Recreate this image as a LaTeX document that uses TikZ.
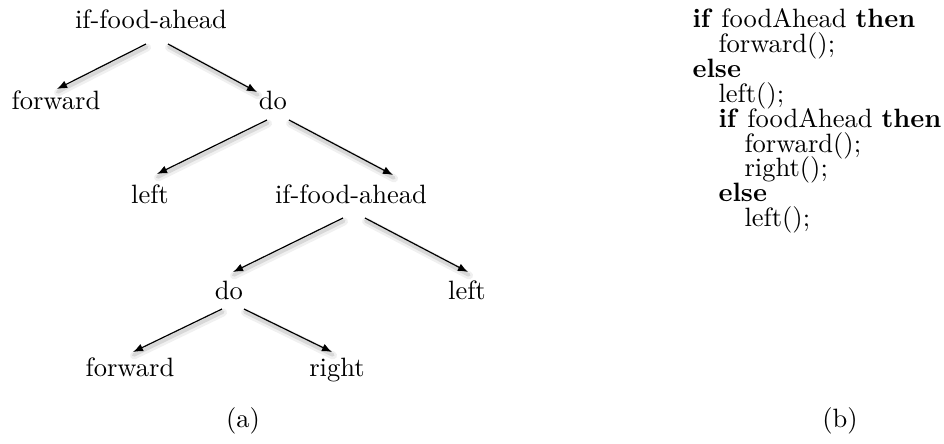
\documentclass[tikz,border=0pt]{standalone}
\usetikzlibrary{calc,arrows.meta}
\tikzset{
	lbl/.style={anchor=base, inner sep=0pt},
	cd/.style={anchor=base west, inner sep=0pt},
	edgeshade/.style={preaction={draw=black, opacity=0.06, line width=3pt, arrows=-, line cap=round, transform canvas={shift={(0.4pt,-1.3pt)}}},
		preaction={draw=black, opacity=0.10, line width=1.4pt, arrows=-, line cap=round, transform canvas={shift={(0.3pt,-1.1pt)}}}},
	edge/.style={-{Latex[length=3.8pt, width=3pt]}, line width=0.45pt, edgeshade}
}

\begin{document}
\begin{tikzpicture}[x=0.377pt, y=-0.377pt]
		%%%%% START %%%%%
		\useasboundingbox (0, 0) rectangle (944, 443);
		
		% tree (a)
		\node[lbl] (root) at (151, 28) {if-food-ahead};
		\node[lbl] (fwdA) at (56, 109) {forward};
		\node[lbl] (doA) at (273, 109) {do};
		\node[lbl] (leftA) at (150, 203) {left};
		\node[lbl] (ifB) at (351, 203) {if-food-ahead};
		\node[lbl] (doB) at (229, 299) {do};
		\node[lbl] (leftB) at (467, 299) {left};
		\node[lbl] (fwdB) at (130, 376) {forward};
		\node[lbl] (rightB) at (337, 376) {right};
		
		\draw[edge] ($(root.base)+(-5, 16)$) -- ($(fwdA.base)+(1, -20)$);
		\draw[edge] ($(root.base)+(17, 16)$) -- ($(doA.base)+(-16, -17)$);
		\draw[edge] ($(doA.base)+(-6, 11)$) -- ($(leftA.base)+(7, -29)$);
		\draw[edge] ($(doA.base)+(16, 11)$) -- ($(ifB.base)+(42, -28)$);
		\draw[edge] ($(ifB.base)+(-8, 15)$) -- ($(doB.base)+(4, -27)$);
		\draw[edge] ($(ifB.base)+(14, 15)$) -- ($(leftB.base)+(1, -27)$);
		\draw[edge] ($(doB.base)+(-7, 10)$) -- ($(fwdB.base)+(3, -24)$);
		\draw[edge] ($(doB.base)+(15, 10)$) -- ($(rightB.base)+(-5, -24)$);
		
		\node[lbl] (capA) at (243, 427) {(a)};
		
		% program (b)
		\node[cd] (c1) at (692, 27) {\textbf{if} foodAhead \textbf{then}};
		\node[cd] (c2) at (718, 52) {forward();};
		\node[cd] (c3) at (692, 77) {\textbf{else}};
		\node[cd] (c4) at (718, 102) {left();};
		\node[cd] (c5) at (718, 127) {\textbf{if} foodAhead \textbf{then}};
		\node[cd] (c6) at (744, 152) {forward();};
		\node[cd] (c7) at (744, 176) {right();};
		\node[cd] (c8) at (718, 201) {\textbf{else}};
		\node[cd] (c9) at (744, 226) {left();};
		
		\node[lbl] (capB) at (840, 427) {(b)};
		%%%%% END %%%%%
	\end{tikzpicture}
\end{document}
